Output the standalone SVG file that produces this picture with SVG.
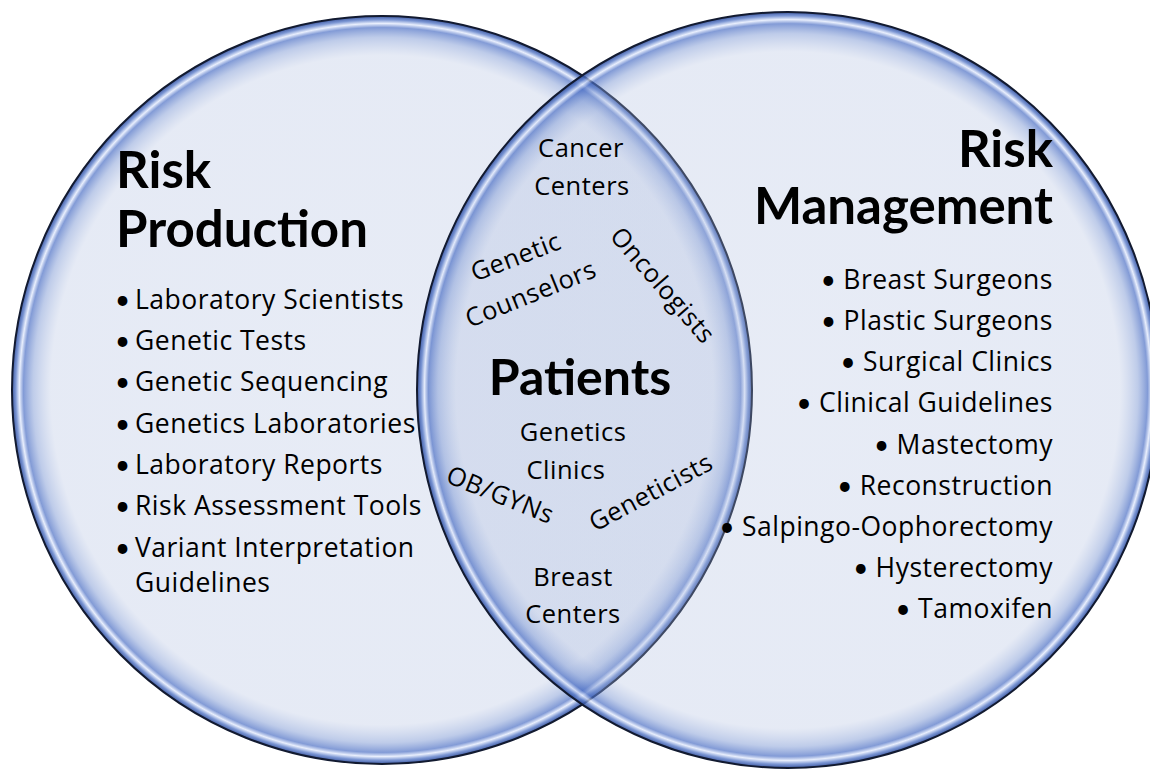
<svg xmlns="http://www.w3.org/2000/svg" width="1150" height="770" viewBox="0 0 1150 770">
  <defs>
    <!-- soft bevelled rim: translucent fill so the overlap reads darker -->
    <radialGradient id="rim" cx="50%" cy="50%" r="50%">
      <stop offset="0" stop-color="rgb(170,186,222)" stop-opacity="0.28"/>
      <stop offset="0.895" stop-color="rgb(170,186,222)" stop-opacity="0.30"/>
      <stop offset="0.943" stop-color="rgb(120,148,210)" stop-opacity="0.48"/>
      <stop offset="0.969" stop-color="rgb(72,108,195)" stop-opacity="0.68"/>
      <stop offset="0.98" stop-color="rgb(225,233,252)" stop-opacity="0.75"/>
      <stop offset="0.99" stop-color="rgb(88,122,200)" stop-opacity="0.78"/>
      <stop offset="1" stop-color="rgb(40,70,150)" stop-opacity="0.9"/>
    </radialGradient>
    <style>
      .set { fill: url(#rim); stroke: #121a30; stroke-width: 2; }
      text { font-family: "Open Sans", "Liberation Sans", sans-serif; fill: #000; }
      .title { font-family: Lato, "Liberation Sans", sans-serif; font-size: 51px; font-weight: 700; }
      .item { font-size: 26.5px; letter-spacing: 0.5px; }
      .b { font-family: Lato, "Liberation Sans", sans-serif; font-size: 26px; letter-spacing: 0; }
      .lens { font-size: 25.5px; letter-spacing: 0.5px; text-anchor: middle; }
      .core { font-family: Lato, "Liberation Sans", sans-serif; font-size: 50px; font-weight: 700; text-anchor: middle; }
      .right { text-anchor: end; }
    </style>
  </defs>

  <rect width="1150" height="770" fill="#ffffff"/>

  <!-- the two sets -->
  <g id="risk-production-set">
    <ellipse class="set" cx="382" cy="390" rx="370" ry="374"/>
  </g>
  <g id="risk-management-set">
    <ellipse class="set" cx="788" cy="390" rx="371" ry="378"/>
  </g>
  <g id="connectors"/>

  <!-- left set labels -->
  <g id="risk-production">
    <text class="title" x="116" y="188">Risk</text>
    <text class="title" x="116" y="247">Production</text>
    <g class="item">
      <text class="b" x="115" y="309">•</text><text x="135" y="309">Laboratory Scientists</text>
      <text class="b" x="115" y="350">•</text><text x="135" y="350">Genetic Tests</text>
      <text class="b" x="115" y="391">•</text><text x="135" y="391">Genetic Sequencing</text>
      <text class="b" x="115" y="433">•</text><text x="135" y="433">Genetics Laboratories</text>
      <text class="b" x="115" y="474">•</text><text x="135" y="474">Laboratory Reports</text>
      <text class="b" x="115" y="515">•</text><text x="135" y="515">Risk Assessment Tools</text>
      <text class="b" x="115" y="557">•</text><text x="135" y="557">Variant Interpretation</text>
      <text x="135" y="592">Guidelines</text>
    </g>
  </g>

  <!-- right set labels -->
  <g id="risk-management">
    <text class="title right" x="1053" y="167">Risk</text>
    <text class="title right" x="1053" y="224">Management</text>
    <g class="item right">
      <text x="1053" y="289"><tspan class="b">•</tspan> Breast Surgeons</text>
      <text x="1053" y="330"><tspan class="b">•</tspan> Plastic Surgeons</text>
      <text x="1053" y="371"><tspan class="b">•</tspan> Surgical Clinics</text>
      <text x="1053" y="412"><tspan class="b">•</tspan> Clinical Guidelines</text>
      <text x="1053" y="454"><tspan class="b">•</tspan> Mastectomy</text>
      <text x="1053" y="495"><tspan class="b">•</tspan> Reconstruction</text>
      <text x="1053" y="536"><tspan class="b">•</tspan> Salpingo-Oophorectomy</text>
      <text x="1053" y="577"><tspan class="b">•</tspan> Hysterectomy</text>
      <text x="1053" y="618"><tspan class="b">•</tspan> Tamoxifen</text>
    </g>
  </g>

  <!-- overlap labels -->
  <g id="patients">
    <text class="lens" x="581" y="157">Cancer</text>
    <text class="lens" x="582" y="195">Centers</text>
    <text class="lens" transform="translate(519,265) rotate(-21)">Genetic</text>
    <text class="lens" transform="translate(534,302) rotate(-22)">Counselors</text>
    <text class="lens" transform="translate(656,291) rotate(49)">Oncologists</text>
    <text class="core" x="580" y="395">Patients</text>
    <text class="lens" x="573" y="441">Genetics</text>
    <text class="lens" x="566" y="479">Clinics</text>
    <text class="lens" transform="translate(497,503) rotate(22)">OB/GYNs</text>
    <text class="lens" transform="translate(655,500) rotate(-28)">Geneticists</text>
    <text class="lens" x="573" y="586">Breast</text>
    <text class="lens" x="573" y="623">Centers</text>
  </g>
</svg>
